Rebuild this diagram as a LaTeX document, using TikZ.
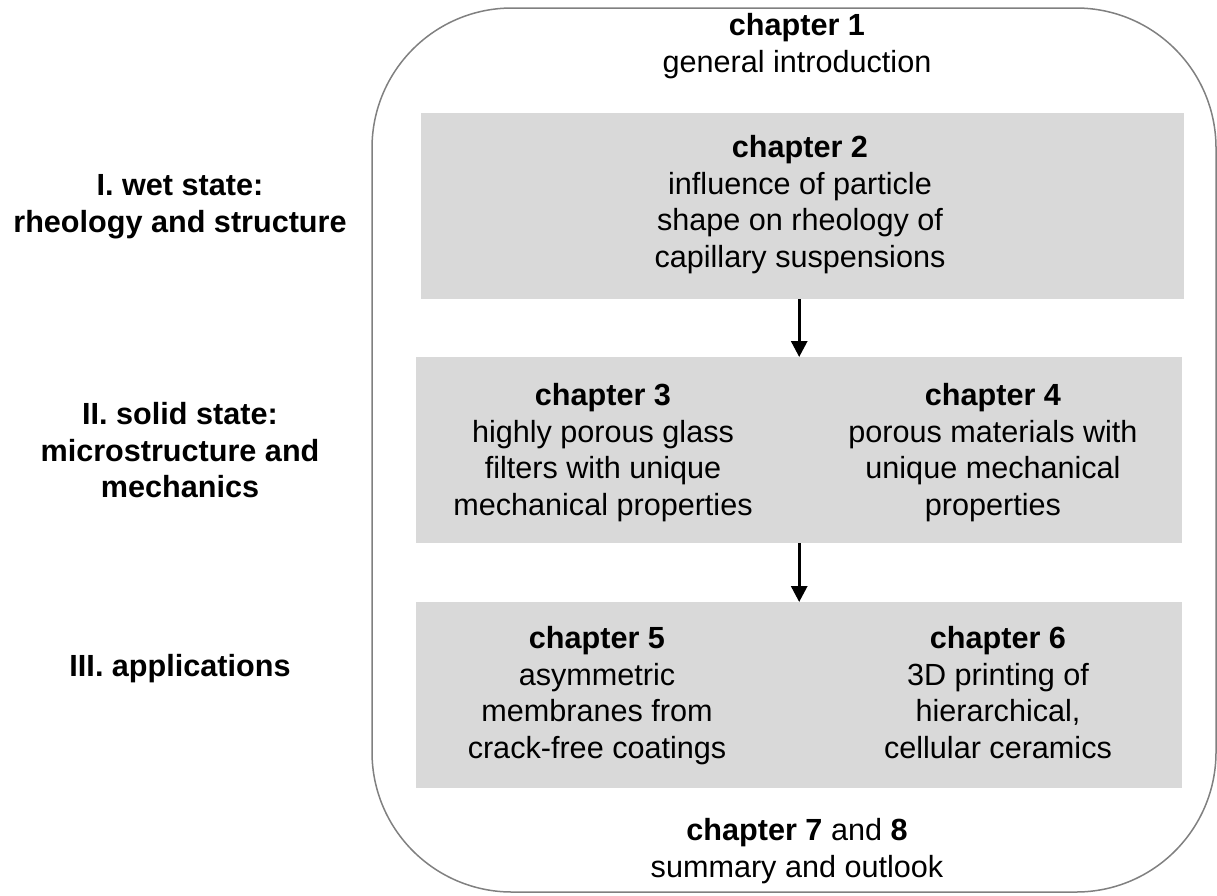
\documentclass[tikz,border=0pt]{standalone}
\usepackage{fontspec}
\setmainfont{Liberation Sans}
\usetikzlibrary{arrows.meta}
\definecolor{boxgray}{RGB}{217,217,217}
\definecolor{framegray}{RGB}{128,128,128}
\begin{document}
\begin{tikzpicture}[x=1pt,y=-1pt,
   txt/.style={align=center,inner sep=0pt,anchor=north,font=\fontsize{30.6}{36.7}\selectfont},
   side/.style={txt,font=\fontsize{30.6}{36.7}\selectfont\bfseries},
   chbox/.style={fill=boxgray,draw=none,inner sep=0pt,anchor=north west,minimum height=186pt},
   arr/.style={line width=3pt,-{Triangle[width=16pt,length=16pt]}}]
   \useasboundingbox (0,0) rectangle (1217,895);
   \draw[color=framegray,line width=1.5pt,rounded corners=140pt] (372,8) rectangle (1216,892);
   \node[chbox,minimum width=763pt] (box2) at (421,113) {};
   \node[chbox,minimum width=766pt] (box34) at (416,357) {};
   \node[chbox,minimum width=766pt] (box56) at (416,602) {};
   \draw[arr] (box2.south -| box34.north) -- (box34.north);
   \draw[arr] (box34.south) -- (box56.north);
   \node[txt] (ch1) at (797,13.1) {\textbf{chapter 1}\\general introduction};
   \node[txt] (ch2) at (800,135.1) {\textbf{chapter 2}\\influence of particle\\shape on rheology of\\capillary suspensions};
   \node[txt] (ch3) at (603,383.1) {\textbf{chapter 3}\\highly porous glass\\filters with unique\\mechanical properties};
   \node[txt] (ch4) at (993,383.1) {\textbf{chapter 4}\\porous materials with\\unique mechanical\\properties};
   \node[txt] (ch5) at (597,626.1) {\textbf{chapter 5}\\asymmetric\\membranes from\\crack-free coatings};
   \node[txt] (ch6) at (998,626.1) {\textbf{chapter 6}\\3D printing of\\hierarchical,\\cellular ceramics};
   \node[txt] (ch78) at (797,818.1) {\textbf{chapter 7} and \textbf{8}\\summary and outlook};
   \node[side] (wet) at (180,174.5) {I. wet state:\\rheology and structure};
   \node[side] (solid) at (180,402) {II. solid state:\\microstructure and\\mechanics};
   \node[side] (appl) at (180,654.5) {III. applications};
 \end{tikzpicture}
\end{document}
